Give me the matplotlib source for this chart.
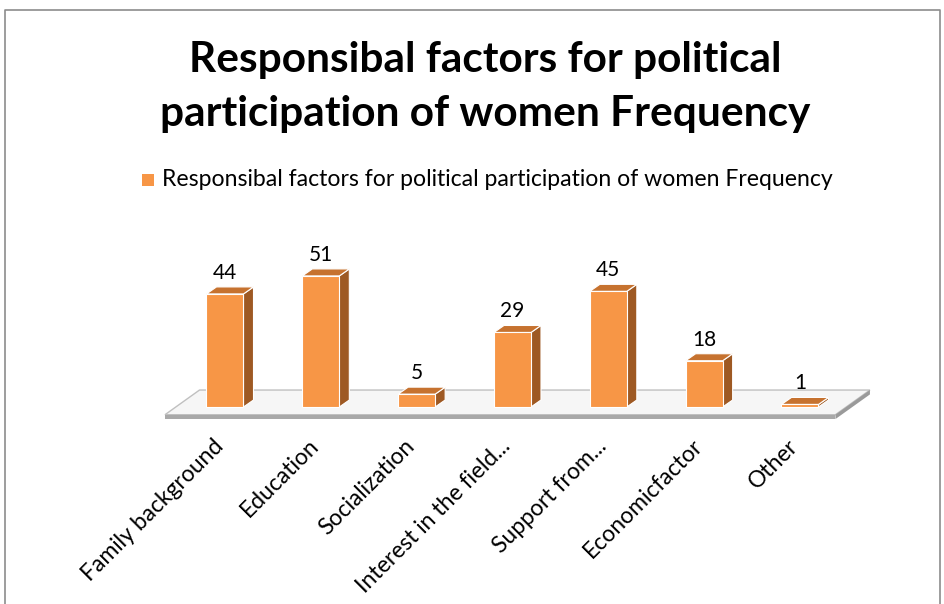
import matplotlib
matplotlib.use("Agg")
import matplotlib.pyplot as plt
from matplotlib.patches import Polygon, Rectangle
from matplotlib.transforms import ScaledTranslation
import numpy as np

categories = ["Family background", "Education", "Socialization", "Interest in the field...",
              "Support from...", "Economicfactor", "Other"]
values = [44, 51, 5, 29, 45, 18, 1]
series_name = "Responsibal factors for political participation of women Frequency"
title = "Responsibal factors for political\nparticipation of women Frequency"

FONT = ["Lato", "DejaVu Sans"]
plt.rcParams['font.family'] = FONT

W, H = 945, 604
fig = plt.figure(figsize=(W / 100, H / 100), dpi=100)

# pixel-based layout for the plot area
px_per_x = 95.83
px_per_y = 2.57
x0_px, base_px = 225, 407
ax_l, ax_r, ax_t, ax_b = 130, 890, 250, 430
ax = fig.add_axes([ax_l / W, (H - ax_b) / H, (ax_r - ax_l) / W, (ax_b - ax_t) / H])
ax.set_xlim((ax_l - x0_px) / px_per_x, (ax_r - x0_px) / px_per_x)
ax.set_ylim(-(ax_b - base_px) / px_per_y, (base_px - ax_t) / px_per_y)
ax.set_facecolor("none")
for s in ax.spines.values():
    s.set_visible(False)
ax.tick_params(axis='both', length=0)
ax.set_yticks([])

x = np.arange(len(categories))
bw = 37 / px_per_x
dx = 10 / px_per_x
dy = 7 / px_per_y

# floor
fl_front_y = -3.0
fl_back_y = 6.6
fl_left_front = -0.626
fl_right_front = 6.37
skew = 0.36
thick = 1.7
floor_top = Polygon([(fl_left_front, fl_front_y), (fl_left_front + skew, fl_back_y),
                     (fl_right_front + skew, fl_back_y), (fl_right_front, fl_front_y)],
                    closed=True, facecolor="#f6f6f6", edgecolor="#c0c0c0", lw=1.0, zorder=1)
ax.add_patch(floor_top)
floor_front = Polygon([(fl_left_front, fl_front_y), (fl_right_front, fl_front_y),
                       (fl_right_front, fl_front_y - thick), (fl_left_front, fl_front_y - thick)],
                      closed=True, facecolor="#a9a9a9", edgecolor="none", zorder=1)
ax.add_patch(floor_front)
floor_side = Polygon([(fl_right_front, fl_front_y), (fl_right_front + skew, fl_back_y),
                      (fl_right_front + skew, fl_back_y - thick), (fl_right_front, fl_front_y - thick)],
                     closed=True, facecolor="#9a9a9a", edgecolor="none", zorder=1)
ax.add_patch(floor_side)

front_c = "#F79646"
top_c = "#C6722F"
side_c = "#9E5923"
for xi, v in zip(x, values):
    l, r = xi - bw / 2, xi + bw / 2
    side = Polygon([(r, 0), (r + dx, dy), (r + dx, v + dy), (r, v)], closed=True,
                   facecolor=side_c, edgecolor="white", lw=0.8, zorder=3)
    top = Polygon([(l, v), (l + dx, v + dy), (r + dx, v + dy), (r, v)], closed=True,
                  facecolor=top_c, edgecolor="white", lw=0.8, zorder=3)
    ax.add_patch(side)
    ax.add_patch(top)
    ax.bar(xi, v, width=bw, color=front_c, edgecolor="white", linewidth=0.8, zorder=4)
    ax.text(xi, v + dy + 3.2, str(v), ha='center', va='baseline', fontsize=15,
            color="#000000", zorder=5)

ax.set_xticks(x)
ax.set_xticklabels(categories, rotation=45, ha='right', va='center', rotation_mode='anchor',
                   fontsize=16.5, color="#000000")
ax.tick_params(axis='x', pad=9)
shift = ScaledTranslation(-5 / 100, 0, fig.dpi_scale_trans)
for lab in ax.get_xticklabels():
    lab.set_transform(lab.get_transform() + shift)

# title
fig.text(485 / W, 1 - 87 / H, title, ha='center', va='center', fontsize=30.5,
         fontweight='bold', color="#000000", linespacing=1.5)

# legend
fig.add_artist(Rectangle((142 / W, 1 - 186 / H), 12 / W, 12 / H, transform=fig.transFigure,
                         facecolor=front_c, edgecolor="none"))
fig.text(162 / W, 1 - 180 / H, series_name, ha='left', va='center', fontsize=16.6, color="#000000")

# chart border
fig.add_artist(plt.Line2D([5 / W, 5 / W, 940 / W, 940 / W], [0, 1 - 10 / H, 1 - 10 / H, 0],
                          transform=fig.transFigure, color="#8c8c8c", lw=1.2))

fig.savefig("out.png", dpi=100)
